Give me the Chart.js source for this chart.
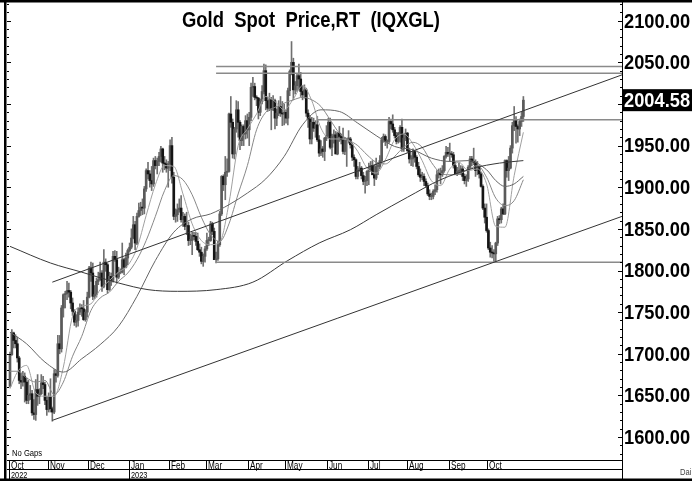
<!DOCTYPE html>
<html><head><meta charset="utf-8">
<script src="https://cdn.jsdelivr.net/npm/chart.js@4.4.0/dist/chart.umd.min.js"></script>
<style>html,body{margin:0;padding:0;background:#fff;overflow:hidden}canvas{display:block}</style>
</head><body>
<canvas id="c" width="692" height="481"></canvas>
<script>
// ---------- DATA ----------
const monthLabels = ['Oct','Nov','Dec','Jan','Feb','Mar','Apr','May','Jun','Jul','Aug','Sep','Oct'];
const monthStarts = [0,21,43,65,87,107,130,150,173,195,216,239,260];
const yearLabels = ['2022','2023'];
const yearStarts = [0,65];
const yTicks = [1600,1650,1700,1750,1800,1850,1900,1950,2050,2100];
const lastPrice = 2004.58;

const opens = [
1661,1699,1725,1716,1712,1695,1668,1666,1673,1666,1644,1650,1652,1629,1627,1657,1649,1652,1665,1663,1644,
1633,1648,1634,1630,1676,1674,1712,1706,1755,1771,1772,1776,1774,1761,1751,1738,1740,1750,1755,1754,1741,1750,
1768,1803,1797,1769,1771,1787,1789,1797,1781,1810,1807,1777,1793,1788,1817,1813,1792,1798,1798,1813,1804,1815,
1824,1828,1839,1855,1833,1865,1872,1876,1875,1898,1920,1916,1908,1904,1932,1926,1931,1937,1946,1929,1928,1923,
1928,1950,1912,1865,1867,1873,1875,1861,1865,1853,1854,1836,1836,1842,1841,1835,1825,1822,1811,1817,
1826,1836,1836,1856,1847,1813,1814,1831,1868,1913,1903,1918,1919,1988,1978,1940,1970,1993,1978,1956,1973,1964,1980,
1969,1984,2020,2021,2008,2007,1990,2003,2015,2040,2004,1995,2005,1994,2004,1983,1989,1997,1989,1988,
1990,1983,2016,2039,2050,2017,2022,2034,2030,2015,2011,2017,1989,1982,1958,1978,1971,1975,1957,1941,1946,1943,1959,
1962,1978,1948,1961,1963,1940,1965,1961,1957,1943,1956,1958,1958,1951,1936,1933,1913,1921,1923,1914,1907,1908,
1919,1921,1926,1915,1911,1925,1925,1932,1957,1961,1955,1955,1979,1976,1969,1962,1955,1965,1972,1946,1959,
1965,1944,1934,1934,1943,1936,1925,1915,1912,1913,1907,1902,1892,1889,1889,1895,1897,1915,1917,1915,1920,1937,1942,
1940,1940,1939,1926,1916,1919,1919,1922,1913,1908,1910,1924,1934,1931,1930,1920,1925,1916,1901,1875,1864,
1848,1827,1822,1821,1820,1833,1862,1861,1874,1868,1932,1920,1923,1947,1974,1981,1973,1970,1979,1985];
const highs = [
1702,1729,1726,1723,1720,1697,1677,1679,1677,1671,1668,1662,1656,1645,1669,1675,1658,1675,1673,1666,1649,
1653,1670,1636,1681,1680,1722,1722,1758,1772,1775,1787,1785,1776,1767,1753,1747,1755,1760,1759,1764,1753,1774,
1805,1810,1809,1782,1791,1798,1810,1800,1825,1814,1809,1798,1797,1823,1824,1823,1804,1802,1833,1815,1821,1826,
1833,1850,1865,1859,1869,1881,1882,1886,1901,1922,1930,1920,1925,1935,1937,1935,1942,1949,1947,1937,1933,1931,
1957,1960,1918,1874,1880,1886,1890,1870,1868,1870,1858,1844,1846,1846,1846,1845,1832,1828,1820,1829,
1845,1840,1859,1858,1851,1822,1835,1871,1914,1915,1937,1934,1989,2009,1982,1972,2004,2003,1980,1975,1975,1986,1988,
1990,2025,2032,2025,2010,2008,2006,2022,2048,2047,2008,2013,2008,2010,2006,1994,2004,2009,2003,2000,
1993,2019,2041,2075,2055,2027,2036,2048,2038,2022,2023,2019,1993,1986,1984,1983,1980,1985,1962,1956,1949,1960,1974,
1983,1983,1964,1969,1967,1966,1973,1964,1971,1960,1959,1968,1960,1953,1939,1934,1925,1930,1925,1918,1913,1920,
1929,1931,1932,1927,1935,1930,1938,1960,1964,1963,1957,1984,1982,1987,1972,1966,1966,1974,1982,1964,1970,
1966,1947,1938,1946,1944,1938,1930,1922,1918,1916,1910,1905,1897,1893,1897,1903,1920,1922,1923,1926,1938,1949,1948,
1953,1943,1942,1930,1924,1929,1926,1925,1916,1915,1926,1937,1937,1947,1933,1931,1926,1918,1903,1880,1880,
1850,1834,1830,1825,1834,1865,1866,1876,1880,1933,1933,1937,1950,1978,1997,1985,1975,1982,1990,2009];
const lows = [
1660,1698,1707,1707,1690,1664,1658,1661,1642,1640,1640,1645,1626,1621,1620,1638,1640,1651,1658,1639,1626,
1630,1630,1619,1628,1666,1672,1700,1702,1744,1755,1765,1768,1754,1746,1734,1732,1733,1747,1745,1740,1739,1744,
1767,1787,1765,1766,1768,1783,1788,1775,1779,1799,1773,1776,1782,1786,1811,1785,1790,1796,1797,1795,1803,1807,
1822,1826,1838,1825,1831,1864,1866,1867,1868,1895,1910,1900,1896,1901,1922,1916,1926,1930,1918,1921,1918,1900,
1920,1905,1861,1858,1859,1870,1858,1853,1849,1843,1830,1831,1819,1837,1830,1824,1817,1808,1805,1810,
1824,1830,1835,1843,1813,1809,1812,1829,1866,1896,1885,1913,1918,1972,1935,1934,1966,1960,1945,1950,1950,1958,1959,
1950,1980,2009,2005,1998,1982,1986,2000,2012,1993,1991,1992,1969,1992,1970,1974,1986,1985,1974,1975,
1977,1975,2010,2035,2005,2012,2015,2017,2009,2005,2007,1985,1972,1952,1952,1967,1960,1955,1937,1938,1936,1932,1956,
1959,1946,1938,1953,1940,1939,1955,1952,1940,1939,1925,1953,1947,1932,1925,1910,1910,1919,1910,1903,1893,1902,
1903,1919,1915,1902,1909,1915,1922,1929,1954,1950,1947,1953,1970,1966,1959,1952,1953,1954,1943,1943,1956,
1942,1929,1926,1925,1930,1922,1913,1907,1909,1902,1900,1890,1885,1885,1886,1891,1894,1911,1904,1913,1918,1935,1937,
1931,1936,1923,1915,1914,1915,1915,1908,1904,1901,1907,1922,1926,1927,1913,1915,1911,1900,1873,1857,1846,
1825,1816,1815,1811,1810,1830,1856,1857,1867,1867,1912,1908,1922,1941,1968,1953,1954,1962,1973,1979];
const closes = [
1699,1725,1716,1712,1695,1668,1666,1673,1666,1644,1650,1652,1629,1627,1657,1649,1652,1665,1663,1644,1633,
1648,1634,1630,1676,1674,1712,1706,1755,1771,1772,1776,1774,1761,1751,1738,1740,1750,1755,1754,1741,1750,1768,
1803,1797,1769,1771,1787,1789,1797,1781,1810,1807,1777,1793,1788,1817,1813,1792,1798,1798,1813,1804,1815,1824,
1828,1839,1855,1833,1865,1872,1876,1875,1898,1920,1916,1908,1904,1932,1926,1931,1937,1946,1929,1928,1923,1928,
1950,1912,1865,1867,1873,1875,1861,1865,1853,1854,1836,1836,1842,1841,1835,1825,1822,1811,1817,1826,
1836,1836,1856,1847,1813,1814,1831,1868,1913,1903,1918,1919,1988,1978,1940,1970,1993,1978,1956,1973,1964,1980,1969,
1984,2020,2021,2008,2007,1990,2003,2015,2040,2004,1995,2005,1994,2004,1983,1989,1997,1989,1988,1990,
1983,2016,2039,2050,2017,2022,2034,2030,2015,2011,2017,1989,1982,1958,1978,1971,1975,1957,1941,1946,1943,1959,1962,
1978,1948,1961,1963,1940,1965,1961,1957,1943,1956,1958,1958,1951,1936,1933,1913,1921,1923,1914,1907,1908,1919,
1921,1926,1915,1911,1925,1925,1932,1957,1961,1955,1955,1979,1976,1969,1962,1955,1965,1972,1946,1959,1965,
1944,1934,1934,1943,1936,1925,1915,1912,1913,1907,1902,1892,1889,1889,1895,1897,1915,1917,1915,1920,1937,1942,1940,
1940,1939,1926,1916,1919,1919,1922,1913,1908,1910,1924,1934,1931,1930,1920,1925,1916,1901,1875,1864,1848,
1827,1822,1821,1820,1833,1862,1861,1874,1868,1932,1920,1923,1947,1974,1981,1973,1970,1979,1985,2004.58];

const maShortDays = [0,4,9,14,19,24,29,34,39,44,49,54,59,64,69,74,79,84,89,94,99,104,109,114,119,124,129,134,139,144,149,154,159,164,169,174,179,184,189,194,199,204,209,214,219,224,229,234,239,244,249,254,259,264,269,274,279];
const ma10 = [1658,1678,1686,1653,1649,1649,1684,1745,1757,1760,1777,1788,1798,1806,1827,1866,1903,1926,1925,1892,1856,1836,1831,1834,1881,1950,1970,1988,2009,2003,1993,2006,2022,2004,1971,1958,1958,1956,1943,1923,1917,1933,1957,1964,1952,1932,1908,1902,1922,1930,1920,1922,1904,1853,1852,1914,1966];
const ma20 = [1679,1679,1671,1666,1668,1651,1666,1697,1721,1752,1767,1774,1787,1797,1813,1836,1865,1896,1914,1909,1891,1864,1843,1835,1856,1892,1926,1969,1990,1996,2001,2005,2008,2005,1997,1981,1965,1957,1950,1939,1930,1928,1937,1948,1954,1948,1930,1917,1915,1916,1921,1926,1912,1887,1878,1884,1909];
const ma50Days = [0,9,19,29,39,49,59,69,79,89,99,109,119,129,139,149,159,169,179,189,199,209,219,229,239,249,259,264,269,274,279];
const ma50 = [1726,1712,1690,1678,1694,1711,1733,1769,1812,1846,1862,1868,1879,1893,1910,1937,1975,1993,1991,1977,1962,1949,1945,1935,1931,1932,1921,1908,1901,1904,1913];
const ma200Days = [0,22,39,59,75,91,112,132,151,168,185,199,216,234,252,266,279];
const ma200 = [1829,1809,1798,1785,1777,1775,1777,1786,1812,1833,1849,1867,1888,1909,1923,1929,1932];

// drawn study lines (start day, start price, end price at right edge)
const trendStartDay = [23, 23];
const trendStartPrice = [1620, 1786];
const trendEndPrice = [1865, 2035];
const levelPrices = [2045, 2037, 1981, 1810];
const levelStartDay = [112, 112, 167, 112];

// ---------- CHART ----------
const SANS = '"Liberation Sans",Arial,sans-serif';
const X_MIN = -1.63, X_MAX = 332.6, Y_MIN = 1572.4, Y_MAX = 2121.3;

const lineDs = (label, days, vals, color, width, order) => ({
  type: 'line', label, data: days.map((d, i) => ({x: d, y: vals[i]})),
  borderColor: color, borderWidth: width, pointRadius: 0, fill: false,
  cubicInterpolationMode: 'monotone', order
});

const datasets = [
  lineDs('MA10', maShortDays, ma10, '#a0a0a0', 1, 4),
  lineDs('MA20', maShortDays, ma20, '#888', 1, 3),
  lineDs('MA50', ma50Days, ma50, '#666', 1, 2),
  lineDs('MA200', ma200Days, ma200, '#383838', 1, 1),
];
trendStartDay.forEach((d, i) => datasets.push({
  type: 'line', label: 'trend' + i,
  data: [{x: d, y: trendStartPrice[i]}, {x: X_MAX, y: trendEndPrice[i]}],
  borderColor: '#333', borderWidth: 1, pointRadius: 0, tension: 0, order: 0
}));
levelPrices.forEach((p, i) => datasets.push({
  type: 'line', label: 'level' + i,
  data: [{x: levelStartDay[i], y: p}, {x: X_MAX, y: p}],
  borderColor: '#8a8a8a', borderWidth: 1.5, pointRadius: 0, tension: 0, order: 0
}));
datasets.push({
  type: 'bar', label: 'range', data: closes.map((c, i) => ({x: i, y: [lows[i], highs[i]]})),
  backgroundColor: '#707070', barThickness: 1, grouped: false, borderWidth: 0, order: 10
});
datasets.push({
  type: 'bar', label: 'body', data: closes.map((c, i) => ({x: i, y: [opens[i], c]})),
  backgroundColor: closes.map((c, i) => c >= opens[i] ? '#5a5a5a' : '#151515'),
  barThickness: 2, grouped: false, borderWidth: 0, minBarLength: 1, order: 9
});

// condensed text helper (no narrow face installed): squeeze horizontally
function narrow(c, txt, x, y, font, sx, align) {
  c.save();
  c.font = font;
  c.translate(x, y);
  c.scale(sx, 1);
  c.textAlign = align || 'left';
  c.fillText(txt, 0, 0);
  c.restore();
}

const deco = {
  id: 'deco',
  afterDraw(chart) {
    const c = chart.ctx, ca = chart.chartArea, xs = chart.scales.x, ys = chart.scales.y;
    const W = chart.width, H = chart.height;
    c.save();
    c.fillStyle = '#000';
    // frame
    c.fillRect(0, 0, W, 2.5);
    c.fillRect(0, H - 2.5, W, 2.5);
    c.fillRect(ca.left - 3, 0, 2.5, H);
    c.fillRect(ca.right, 0, 1, H);
    // date rows
    c.fillRect(ca.left, ca.bottom, ca.right - ca.left, 1);
    c.fillRect(ca.left, ca.bottom + 9, ca.right - ca.left, 1);
    c.textBaseline = 'alphabetic';
    xs.ticks.forEach((t, i) => {
      const px = Math.round(xs.getPixelForValue(monthStarts[i] - 0.5));
      c.fillRect(px, ca.bottom, 1, 9);
      narrow(c, monthLabels[i], px + 2, ca.bottom + 8.5, '10px ' + SANS, 0.82);
    });
    yearStarts.forEach((m, i) => {
      const px = Math.round(xs.getPixelForValue(m - 0.5));
      c.fillRect(px, ca.bottom + 9, 1, 10);
      narrow(c, yearLabels[i], px + 2, ca.bottom + 17.5, '9px ' + SANS, 0.82);
    });
    // ruler ticks on both borders
    for (let v = 1580; v <= 2120; v += 10) {
      const py = Math.round(ys.getPixelForValue(v));
      const len = v % 50 === 0 ? 4 : 2;
      c.fillRect(ca.left, py, len, 1);
      c.fillRect(ca.right - len, py, len, 1);
    }
    // price scale labels
    c.textBaseline = 'middle';
    ys.ticks.forEach(t => {
      narrow(c, Number(t.value).toFixed(2), ca.right + 2, ys.getPixelForValue(t.value) + 1,
        'bold 21px ' + SANS, 0.87);
    });
    // last price box
    const yp = ys.getPixelForValue(lastPrice);
    c.fillRect(ca.right + 1, yp - 11, W - ca.right - 1, 22);
    c.fillStyle = '#fff';
    narrow(c, lastPrice.toFixed(2), ca.right + 2, yp + 1, 'bold 21px ' + SANS, 0.87);
    c.fillStyle = '#000';
    // footnotes
    c.textBaseline = 'alphabetic';
    narrow(c, 'No Gaps', ca.left + 5, ca.bottom - 4, '9px ' + SANS, 0.85);
    c.fillStyle = '#444';
    narrow(c, 'Daily', ca.right + 58, ca.bottom + 15, '9px ' + SANS, 0.85);
    // title
    c.fillStyle = '#000';
    const tTxt = 'Gold  Spot  Price,RT  (IQXGL)';
    c.font = 'bold 22px ' + SANS;
    const tw = c.measureText(tTxt).width;
    narrow(c, tTxt, 311, 27, 'bold 22px ' + SANS, 258 / tw, 'center');
    c.restore();
  }
};

new Chart(document.getElementById('c'), {
  type: 'bar',
  data: {datasets},
  options: {
    responsive: false, animation: false,
    layout: {padding: {left: 7, right: 0, top: 3, bottom: 2}},
    plugins: {legend: {display: false}, tooltip: {enabled: false}, title: {display: false}},
    scales: {
      x: {
        type: 'linear', min: X_MIN, max: X_MAX, offset: false,
        grid: {display: false, drawTicks: false}, border: {display: false},
        afterBuildTicks: s => { s.ticks = monthStarts.map(m => ({value: m})); },
        ticks: {display: false, autoSkip: false},
        afterFit: s => { s.height = 19; }
      },
      y: {
        type: 'linear', position: 'right', min: Y_MIN, max: Y_MAX,
        grid: {display: false, drawTicks: false}, border: {display: false},
        afterBuildTicks: s => { s.ticks = yTicks.map(v => ({value: v})); },
        ticks: {display: false},
        afterFit: s => { s.width = 70; }
      }
    }
  },
  plugins: [deco]
});
</script>
</body></html>
